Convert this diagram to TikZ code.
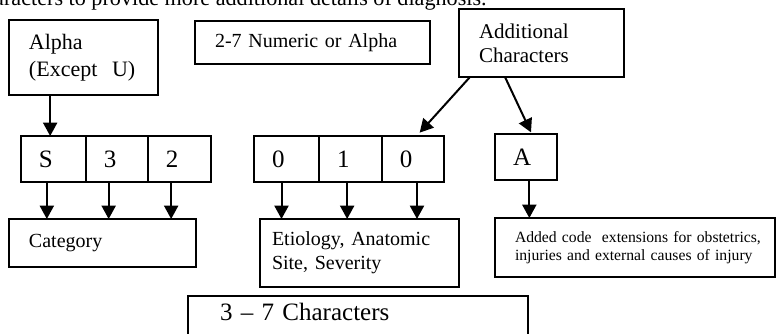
\documentclass[tikz,border=0pt]{standalone}
\usepackage{fontspec}
\setmainfont{Liberation Serif}
\usetikzlibrary{arrows.meta,positioning}

\begin{document}
\begin{tikzpicture}[x=0.6pt,y=-0.6pt,
	box/.style={draw, line width=1pt, rectangle, anchor=north west, outer sep=0pt, align=left, inner ysep=0pt},
	cell/.style={box, minimum height=27.6pt, inner xsep=10.8pt, text width=#1, font=\fontsize{15}{17}\selectfont},
	arr/.style={line width=1.2pt, -{Triangle[length=8pt,width=8.4pt]}}]
	\useasboundingbox (0,0) rectangle (776,334);
	% line of body text cut off by the top edge
	\node [anchor=base east, inner sep=0pt, font=\fontsize{13.3}{15}\selectfont] (intro) at (487,6) {characters to provide more additional details of diagnosis.};
	% boxes on top
	\node [box, minimum height=45pt, inner xsep=12pt, text width=65.4pt, font=\fontsize{13.2}{16}\selectfont] (alpha) at (9,20) {Alpha\\(Except\ \ U)};
	\node [box, minimum height=25.8pt, inner xsep=12pt, text width=117pt, font=\fontsize{12}{14}\selectfont] (numeric) at (195,21) {2-7 Numeric or Alpha};
	\node [box, minimum height=40.8pt, inner xsep=12pt, text width=75pt, font=\fontsize{12.6}{14.4}\selectfont] (addl) at (459,9) {Additional\\Characters};
	% the code characters
	\node [cell=17.4pt] (s) at (21,136) {S};
	\node [cell=15.6pt, right=0pt of s] (three) {3};
	\node [cell=16.2pt, right=0pt of three] (two) {2};
	\node [cell=17.4pt] (z1) at (254,136) {0};
	\node [cell=16.2pt, right=0pt of z1] (z2) {1};
	\node [cell=15.6pt, right=0pt of z2] (z3) {0};
	\node [cell=15.6pt] (a) at (495,134) {A};
	% boxes below
	\node [box, minimum height=28.8pt, inner xsep=12pt, text width=88.2pt, font=\fontsize{12}{14}\selectfont] (cat) at (9,219) {Category};
	\node [box, minimum height=40.8pt, inner xsep=7.2pt, text width=105pt, font=\fontsize{12}{14.4}\selectfont] (eti) at (260,219) {Etiology, Anatomic\\Site, Severity};
	\node [box, minimum height=35.4pt, inner xsep=12pt, text width=144pt, font=\fontsize{9.4}{10.8}\selectfont] (ext) at (495,218) {\mbox{Added code\ \ extensions for obstetrics,}\\\mbox{injuries and external causes of injury}};
	\node [box, inner xsep=19.2pt, text width=165.6pt, text height=15pt, text depth=30pt, font=\fontsize{15}{17}\selectfont] (chars) at (188,296) {3 -- 7 Characters};
	% arrows
	\draw [arr] ([xshift=-2pt]s.north |- alpha.south) -- ([xshift=-2pt]s.north);
	\draw [arr] ([xshift=-4pt]s.south) -- ([xshift=-4pt]s.south |- cat.north);
	\draw [arr] ([xshift=-5pt]three.south) -- ([xshift=-5pt]three.south |- cat.north);
	\draw [arr] ([xshift=-5pt]two.south) -- ([xshift=-5pt]two.south |- cat.north);
	\draw [arr] ([xshift=-3pt]z1.south) -- ([xshift=-3pt]z1.south |- eti.north);
	\draw [arr] ([xshift=-2pt]z2.south) -- ([xshift=-2pt]z2.south |- eti.north);
	\draw [arr] ([xshift=2.4pt]z3.south) -- ([xshift=2.4pt]z3.south |- eti.north);
	\draw [arr] ([xshift=2pt]a.south) -- ([xshift=2pt]a.south |- ext.north);
	\draw [arr] ([xshift=6.6pt]addl.south west) -- ([xshift=4pt,yshift=2pt]z3.north);
	\draw [arr] ([xshift=27.6pt]addl.south west) -- ([xshift=3pt,yshift=1pt]a.north);
\end{tikzpicture}
\end{document}
